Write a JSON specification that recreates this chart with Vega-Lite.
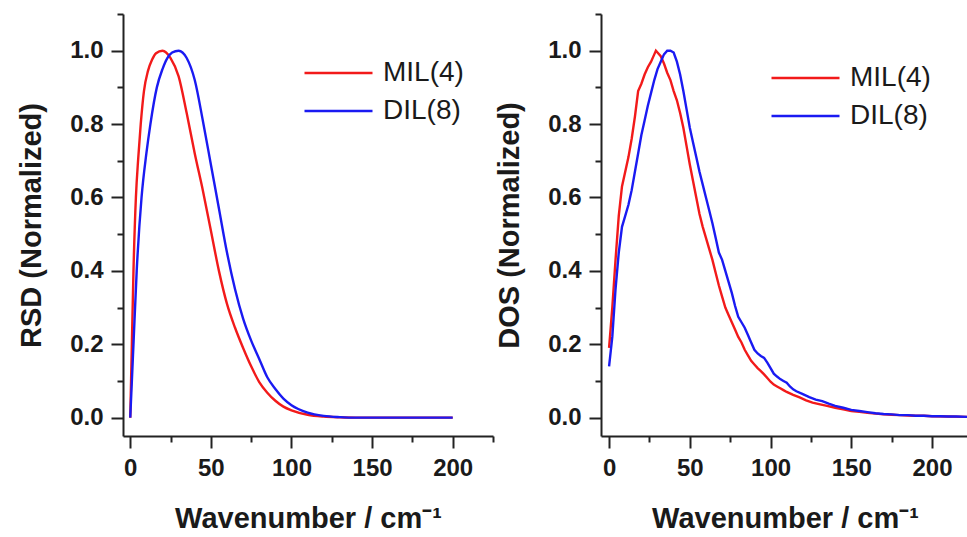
{
 "$schema": "https://vega.github.io/schema/vega-lite/v6.json",
 "background": "white",
 "padding": {"left": 17, "top": 2, "right": 0, "bottom": 0},
 "spacing": 1,
 "config": {
   "view": {"stroke": null},
   "font": "Liberation Sans",
   "axis": {
     "domainColor": "#222", "domainWidth": 2, "tickColor": "#222", "tickWidth": 2,
     "labelFont": "Liberation Sans", "labelFontSize": 24, "labelFontWeight": "bold", "labelColor": "#1a1a1a",
     "titleFont": "Liberation Sans", "titleFontSize": 29, "titleFontWeight": "bold", "titleColor": "#1a1a1a",
     "grid": false, "labelOverlap": false
   },
   "legend": {
     "title": null, "padding": 0, "symbolType": "stroke", "symbolSize": 4624, "symbolStrokeWidth": 2.5,
     "clipHeight": 38, "rowPadding": 0, "labelFont": "Liberation Sans", "labelFontSize": 28, "labelFontWeight": "normal",
     "labelColor": "#1a1a1a", "labelOffset": 9, "labelLimit": 300
   }
 },
 "datasets": {
   "rsd": [
     {"w":0,"v":0,"s":"MIL(4)"},{"w":1,"v":0.2,"s":"MIL(4)"},{"w":2,"v":0.4,"s":"MIL(4)"},{"w":3.5,"v":0.6,"s":"MIL(4)"},{"w":5,"v":0.71,"s":"MIL(4)"},{"w":6.5,"v":0.8,"s":"MIL(4)"},{"w":8.5,"v":0.89,"s":"MIL(4)"},{"w":11,"v":0.945,"s":"MIL(4)"},{"w":13.5,"v":0.975,"s":"MIL(4)"},{"w":16,"v":0.993,"s":"MIL(4)"},{"w":20,"v":1.0,"s":"MIL(4)"},{"w":25,"v":0.98,"s":"MIL(4)"},{"w":30,"v":0.93,"s":"MIL(4)"},{"w":35,"v":0.83,"s":"MIL(4)"},{"w":40,"v":0.72,"s":"MIL(4)"},{"w":45,"v":0.62,"s":"MIL(4)"},{"w":50,"v":0.51,"s":"MIL(4)"},{"w":55,"v":0.4,"s":"MIL(4)"},{"w":60,"v":0.31,"s":"MIL(4)"},{"w":65,"v":0.245,"s":"MIL(4)"},{"w":70,"v":0.19,"s":"MIL(4)"},{"w":75,"v":0.14,"s":"MIL(4)"},{"w":80,"v":0.097,"s":"MIL(4)"},{"w":85,"v":0.068,"s":"MIL(4)"},{"w":90,"v":0.046,"s":"MIL(4)"},{"w":95,"v":0.03,"s":"MIL(4)"},{"w":100,"v":0.02,"s":"MIL(4)"},{"w":110,"v":0.008,"s":"MIL(4)"},{"w":120,"v":0.003,"s":"MIL(4)"},{"w":130,"v":0.001,"s":"MIL(4)"},{"w":140,"v":0,"s":"MIL(4)"},{"w":160,"v":0,"s":"MIL(4)"},{"w":180,"v":0,"s":"MIL(4)"},{"w":200,"v":0,"s":"MIL(4)"},
     {"w":0,"v":0,"s":"DIL(8)"},{"w":1,"v":0.1,"s":"DIL(8)"},{"w":2,"v":0.2,"s":"DIL(8)"},{"w":4,"v":0.4,"s":"DIL(8)"},{"w":7,"v":0.6,"s":"DIL(8)"},{"w":10,"v":0.72,"s":"DIL(8)"},{"w":12.5,"v":0.8,"s":"DIL(8)"},{"w":16.5,"v":0.9,"s":"DIL(8)"},{"w":20,"v":0.95,"s":"DIL(8)"},{"w":23,"v":0.98,"s":"DIL(8)"},{"w":26,"v":0.995,"s":"DIL(8)"},{"w":30,"v":1.0,"s":"DIL(8)"},{"w":35,"v":0.98,"s":"DIL(8)"},{"w":40,"v":0.92,"s":"DIL(8)"},{"w":45,"v":0.81,"s":"DIL(8)"},{"w":50,"v":0.69,"s":"DIL(8)"},{"w":55,"v":0.57,"s":"DIL(8)"},{"w":60,"v":0.45,"s":"DIL(8)"},{"w":65,"v":0.35,"s":"DIL(8)"},{"w":70,"v":0.27,"s":"DIL(8)"},{"w":75,"v":0.21,"s":"DIL(8)"},{"w":80,"v":0.16,"s":"DIL(8)"},{"w":85,"v":0.11,"s":"DIL(8)"},{"w":90,"v":0.078,"s":"DIL(8)"},{"w":95,"v":0.052,"s":"DIL(8)"},{"w":100,"v":0.034,"s":"DIL(8)"},{"w":110,"v":0.014,"s":"DIL(8)"},{"w":120,"v":0.005,"s":"DIL(8)"},{"w":130,"v":0.0015,"s":"DIL(8)"},{"w":140,"v":0,"s":"DIL(8)"},{"w":160,"v":0,"s":"DIL(8)"},{"w":180,"v":0,"s":"DIL(8)"},{"w":200,"v":0,"s":"DIL(8)"}
   ],
   "dos": [
     {"w":0,"v":0.19,"s":"MIL(4)"},{"w":2,"v":0.3,"s":"MIL(4)"},{"w":4,"v":0.43,"s":"MIL(4)"},{"w":6,"v":0.55,"s":"MIL(4)"},{"w":8,"v":0.63,"s":"MIL(4)"},{"w":10,"v":0.67,"s":"MIL(4)"},{"w":12,"v":0.71,"s":"MIL(4)"},{"w":14,"v":0.76,"s":"MIL(4)"},{"w":16,"v":0.82,"s":"MIL(4)"},{"w":18,"v":0.89,"s":"MIL(4)"},{"w":20,"v":0.91,"s":"MIL(4)"},{"w":22,"v":0.935,"s":"MIL(4)"},{"w":24,"v":0.955,"s":"MIL(4)"},{"w":26,"v":0.97,"s":"MIL(4)"},{"w":28,"v":0.99,"s":"MIL(4)"},{"w":29,"v":1.0,"s":"MIL(4)"},{"w":30,"v":0.995,"s":"MIL(4)"},{"w":32,"v":0.985,"s":"MIL(4)"},{"w":34,"v":0.965,"s":"MIL(4)"},{"w":36,"v":0.94,"s":"MIL(4)"},{"w":38,"v":0.92,"s":"MIL(4)"},{"w":40,"v":0.89,"s":"MIL(4)"},{"w":42,"v":0.865,"s":"MIL(4)"},{"w":44,"v":0.83,"s":"MIL(4)"},{"w":46,"v":0.79,"s":"MIL(4)"},{"w":48,"v":0.74,"s":"MIL(4)"},{"w":50,"v":0.69,"s":"MIL(4)"},{"w":52,"v":0.645,"s":"MIL(4)"},{"w":54,"v":0.6,"s":"MIL(4)"},{"w":56,"v":0.555,"s":"MIL(4)"},{"w":58,"v":0.52,"s":"MIL(4)"},{"w":60,"v":0.49,"s":"MIL(4)"},{"w":62,"v":0.46,"s":"MIL(4)"},{"w":64,"v":0.43,"s":"MIL(4)"},{"w":66,"v":0.395,"s":"MIL(4)"},{"w":68,"v":0.36,"s":"MIL(4)"},{"w":70,"v":0.33,"s":"MIL(4)"},{"w":72,"v":0.3,"s":"MIL(4)"},{"w":74,"v":0.28,"s":"MIL(4)"},{"w":76,"v":0.26,"s":"MIL(4)"},{"w":78,"v":0.24,"s":"MIL(4)"},{"w":80,"v":0.22,"s":"MIL(4)"},{"w":82,"v":0.205,"s":"MIL(4)"},{"w":84,"v":0.185,"s":"MIL(4)"},{"w":86,"v":0.17,"s":"MIL(4)"},{"w":88,"v":0.155,"s":"MIL(4)"},{"w":90,"v":0.145,"s":"MIL(4)"},{"w":92,"v":0.135,"s":"MIL(4)"},{"w":94,"v":0.127,"s":"MIL(4)"},{"w":96,"v":0.118,"s":"MIL(4)"},{"w":98,"v":0.108,"s":"MIL(4)"},{"w":100,"v":0.098,"s":"MIL(4)"},{"w":102,"v":0.09,"s":"MIL(4)"},{"w":104,"v":0.085,"s":"MIL(4)"},{"w":106,"v":0.08,"s":"MIL(4)"},{"w":108,"v":0.075,"s":"MIL(4)"},{"w":110,"v":0.07,"s":"MIL(4)"},{"w":114,"v":0.062,"s":"MIL(4)"},{"w":118,"v":0.055,"s":"MIL(4)"},{"w":122,"v":0.047,"s":"MIL(4)"},{"w":126,"v":0.041,"s":"MIL(4)"},{"w":130,"v":0.037,"s":"MIL(4)"},{"w":135,"v":0.032,"s":"MIL(4)"},{"w":140,"v":0.027,"s":"MIL(4)"},{"w":145,"v":0.023,"s":"MIL(4)"},{"w":150,"v":0.018,"s":"MIL(4)"},{"w":155,"v":0.016,"s":"MIL(4)"},{"w":160,"v":0.013,"s":"MIL(4)"},{"w":165,"v":0.011,"s":"MIL(4)"},{"w":170,"v":0.009,"s":"MIL(4)"},{"w":175,"v":0.008,"s":"MIL(4)"},{"w":180,"v":0.007,"s":"MIL(4)"},{"w":185,"v":0.006,"s":"MIL(4)"},{"w":190,"v":0.005,"s":"MIL(4)"},{"w":195,"v":0.005,"s":"MIL(4)"},{"w":200,"v":0.004,"s":"MIL(4)"},{"w":210,"v":0.003,"s":"MIL(4)"},{"w":222,"v":0.002,"s":"MIL(4)"},
     {"w":0,"v":0.14,"s":"DIL(8)"},{"w":2,"v":0.22,"s":"DIL(8)"},{"w":4,"v":0.35,"s":"DIL(8)"},{"w":6,"v":0.45,"s":"DIL(8)"},{"w":8,"v":0.52,"s":"DIL(8)"},{"w":10,"v":0.55,"s":"DIL(8)"},{"w":12,"v":0.58,"s":"DIL(8)"},{"w":14,"v":0.62,"s":"DIL(8)"},{"w":16,"v":0.67,"s":"DIL(8)"},{"w":18,"v":0.72,"s":"DIL(8)"},{"w":20,"v":0.77,"s":"DIL(8)"},{"w":22,"v":0.81,"s":"DIL(8)"},{"w":24,"v":0.85,"s":"DIL(8)"},{"w":26,"v":0.885,"s":"DIL(8)"},{"w":28,"v":0.92,"s":"DIL(8)"},{"w":30,"v":0.95,"s":"DIL(8)"},{"w":32,"v":0.97,"s":"DIL(8)"},{"w":34,"v":0.99,"s":"DIL(8)"},{"w":36,"v":1.0,"s":"DIL(8)"},{"w":38,"v":1.0,"s":"DIL(8)"},{"w":40,"v":0.995,"s":"DIL(8)"},{"w":42,"v":0.97,"s":"DIL(8)"},{"w":44,"v":0.935,"s":"DIL(8)"},{"w":46,"v":0.89,"s":"DIL(8)"},{"w":48,"v":0.84,"s":"DIL(8)"},{"w":50,"v":0.79,"s":"DIL(8)"},{"w":52,"v":0.75,"s":"DIL(8)"},{"w":54,"v":0.71,"s":"DIL(8)"},{"w":56,"v":0.67,"s":"DIL(8)"},{"w":58,"v":0.635,"s":"DIL(8)"},{"w":60,"v":0.6,"s":"DIL(8)"},{"w":62,"v":0.565,"s":"DIL(8)"},{"w":64,"v":0.53,"s":"DIL(8)"},{"w":66,"v":0.49,"s":"DIL(8)"},{"w":68,"v":0.45,"s":"DIL(8)"},{"w":70,"v":0.43,"s":"DIL(8)"},{"w":72,"v":0.4,"s":"DIL(8)"},{"w":74,"v":0.37,"s":"DIL(8)"},{"w":76,"v":0.34,"s":"DIL(8)"},{"w":78,"v":0.305,"s":"DIL(8)"},{"w":80,"v":0.275,"s":"DIL(8)"},{"w":82,"v":0.26,"s":"DIL(8)"},{"w":84,"v":0.245,"s":"DIL(8)"},{"w":86,"v":0.225,"s":"DIL(8)"},{"w":88,"v":0.205,"s":"DIL(8)"},{"w":90,"v":0.185,"s":"DIL(8)"},{"w":92,"v":0.175,"s":"DIL(8)"},{"w":94,"v":0.168,"s":"DIL(8)"},{"w":96,"v":0.163,"s":"DIL(8)"},{"w":98,"v":0.15,"s":"DIL(8)"},{"w":100,"v":0.135,"s":"DIL(8)"},{"w":102,"v":0.12,"s":"DIL(8)"},{"w":104,"v":0.112,"s":"DIL(8)"},{"w":106,"v":0.105,"s":"DIL(8)"},{"w":108,"v":0.1,"s":"DIL(8)"},{"w":110,"v":0.095,"s":"DIL(8)"},{"w":112,"v":0.085,"s":"DIL(8)"},{"w":114,"v":0.077,"s":"DIL(8)"},{"w":116,"v":0.072,"s":"DIL(8)"},{"w":120,"v":0.064,"s":"DIL(8)"},{"w":124,"v":0.056,"s":"DIL(8)"},{"w":128,"v":0.049,"s":"DIL(8)"},{"w":132,"v":0.045,"s":"DIL(8)"},{"w":136,"v":0.038,"s":"DIL(8)"},{"w":140,"v":0.032,"s":"DIL(8)"},{"w":145,"v":0.027,"s":"DIL(8)"},{"w":150,"v":0.021,"s":"DIL(8)"},{"w":155,"v":0.018,"s":"DIL(8)"},{"w":160,"v":0.015,"s":"DIL(8)"},{"w":165,"v":0.012,"s":"DIL(8)"},{"w":170,"v":0.01,"s":"DIL(8)"},{"w":175,"v":0.009,"s":"DIL(8)"},{"w":180,"v":0.007,"s":"DIL(8)"},{"w":185,"v":0.007,"s":"DIL(8)"},{"w":190,"v":0.005,"s":"DIL(8)"},{"w":195,"v":0.005,"s":"DIL(8)"},{"w":200,"v":0.004,"s":"DIL(8)"},{"w":205,"v":0.004,"s":"DIL(8)"},{"w":210,"v":0.003,"s":"DIL(8)"},{"w":215,"v":0.003,"s":"DIL(8)"},{"w":222,"v":0.002,"s":"DIL(8)"}
   ]
 },
 "resolve": {"legend": {"color": "independent"}},
 "hconcat": [
   {
     "width": 370, "height": 422,
     "data": {"name": "rsd"},
     "mark": {"type": "line", "interpolate": "monotone", "strokeWidth": 2.4},
     "encoding": {
       "x": {"field": "w", "type": "quantitative", "scale": {"domain": [-4.5, 225], "nice": false, "zero": false},
         "axis": {"title": "Wavenumber / cm⁻¹", "values": [0,25,50,75,100,125,150,175,200,225],
           "labelExpr": "datum.value % 50 === 0 && datum.value <= 200 ? datum.label : ''",
           "tickSize": {"condition": {"test": "datum.value % 50 === 0", "value": 12}, "value": 6},
           "labelPadding": 8, "titlePadding": 24}},
       "y": {"field": "v", "type": "quantitative", "scale": {"domain": [-0.05, 1.1], "nice": false, "zero": false},
         "axis": {"title": "RSD (Normalized)", "values": [0,0.1,0.2,0.3,0.4,0.5,0.6,0.7,0.8,0.9,1.0,1.1], "format": ".1f",
           "labelExpr": "round(datum.value*10) % 2 === 0 && datum.value < 1.05 ? datum.label : ''",
           "tickSize": {"condition": {"test": "round(datum.value*10) % 2 === 0", "value": 12}, "value": 6},
           "labelPadding": 8, "titlePadding": 23}},
       "color": {"field": "s", "type": "nominal", "sort": ["MIL(4)", "DIL(8)"],
         "scale": {"domain": ["MIL(4)", "DIL(8)"], "range": ["#f21a1a", "#1a1af2"]},
         "legend": {"orient": "none", "legendX": 180, "legendY": 40}}
     }
   },
   {
     "width": 368, "height": 422,
     "data": {"name": "dos"},
     "mark": {"type": "line", "interpolate": "linear", "strokeWidth": 2.4},
     "encoding": {
       "x": {"field": "w", "type": "quantitative", "scale": {"domain": [-5, 222.9], "nice": false, "zero": false},
         "axis": {"title": "Wavenumber / cm⁻¹", "values": [0,25,50,75,100,125,150,175,200],
           "labelExpr": "datum.value % 50 === 0 ? datum.label : ''",
           "tickSize": {"condition": {"test": "datum.value % 50 === 0", "value": 12}, "value": 6},
           "labelPadding": 8, "titlePadding": 24}},
       "y": {"field": "v", "type": "quantitative", "scale": {"domain": [-0.05, 1.1], "nice": false, "zero": false},
         "axis": {"title": "DOS (Normalized)", "values": [0,0.1,0.2,0.3,0.4,0.5,0.6,0.7,0.8,0.9,1.0,1.1], "format": ".1f",
           "labelExpr": "round(datum.value*10) % 2 === 0 && datum.value < 1.05 ? datum.label : ''",
           "tickSize": {"condition": {"test": "round(datum.value*10) % 2 === 0", "value": 12}, "value": 6},
           "labelPadding": 8, "titlePadding": 23}},
       "color": {"field": "s", "type": "nominal", "sort": ["MIL(4)", "DIL(8)"],
         "scale": {"domain": ["MIL(4)", "DIL(8)"], "range": ["#f21a1a", "#1a1af2"]},
         "legend": {"orient": "none", "legendX": 169, "legendY": 45}}
     }
   }
 ]
}
